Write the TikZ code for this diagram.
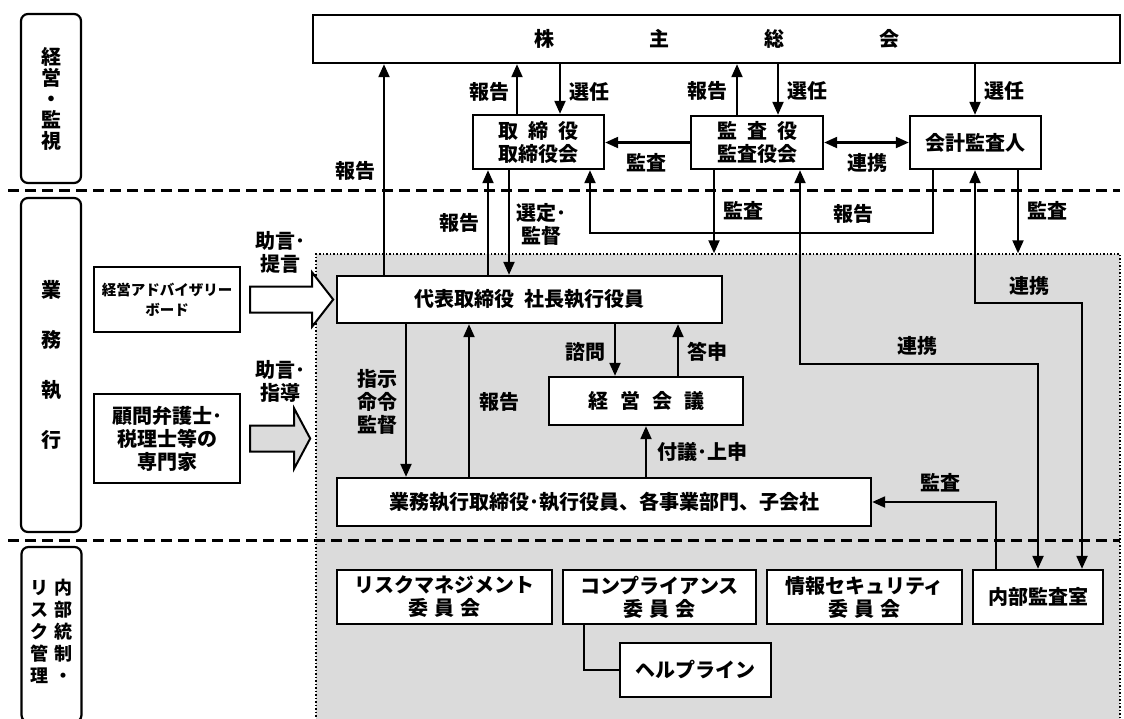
\documentclass[tikz,border=0pt]{standalone}
\usepackage{fontspec}
\setmainfont{Noto Sans CJK JP}
\usetikzlibrary{arrows.meta}

\begin{document}
\begin{tikzpicture}[x=1pt,y=-1pt,>={Triangle[length=13pt,width=11pt]},
			every node/.style={font=\fontsize{20}{23}\selectfont\bfseries,inner sep=0pt},
			box/.style={draw,line width=2.4pt,fill=white,align=center},
			lane/.style={draw,line width=2.2pt,rounded corners=7pt,fill=white,align=center,minimum width=60pt},
			small/.style={font=\fontsize{14.5}{20}\selectfont\bfseries},
			line/.style={line width=2.2pt},
			post/.style={line,->},
			both/.style={line,<->},
			sep/.style={line width=3pt,dash pattern=on 11pt off 6pt},
			area/.style={draw,dotted,line width=1.5pt,fill=gray!28},
			blockarrow/.style={draw,line width=2pt}]

		\useasboundingbox (0,0) rectangle (1124,718);

		\node [area, minimum width=804pt, minimum height=472pt] (exec) at (718,490) {};

		\draw [sep] (8,190) -- (1120,190);
		\draw [sep] (8,540) -- (1120,540);

		\node [lane, minimum height=169pt, font=\fontsize{20}{21}\selectfont\bfseries] (lane1) at (51,98.5) {経\\営\\・\\監\\視};
		\node [lane, minimum height=334pt, font=\fontsize{20}{50}\selectfont\bfseries] (lane2) at (51,365) {業\\務\\執\\行};
		\node [lane, minimum height=175pt, font=\fontsize{18}{22}\selectfont\bfseries] (lane3) at (51.5,634.5)
			{\begin{tabular}{@{}c@{\hspace{7pt}}c@{}}リ&内\\ス&部\\ク&統\\管&制\\理&・\end{tabular}};

		\node [box, minimum width=807pt, minimum height=48pt] (soukai) at (716.5,39)
			{株\hspace{95pt}主\hspace{95pt}総\hspace{95pt}会};
		\node [box, minimum width=131pt, minimum height=54pt] (torishimari) at (538.5,142) {取\hspace{10pt}締\hspace{10pt}役\\取締役会};
		\node [box, minimum width=132pt, minimum height=53pt] (kansa) at (757,142.5) {監\hspace{10pt}査\hspace{10pt}役\\監査役会};
		\node [box, minimum width=131pt, minimum height=53pt] (kaikei) at (975.5,142.5) {会計監査人};
		\node [box, minimum width=385pt, minimum height=47pt] (daihyo) at (529.5,299.5) {代表取締役\hspace{10pt}社長執行役員};
		\node [box, minimum width=194pt, minimum height=48pt] (keiei) at (646,401) {経\hspace{12pt}営\hspace{12pt}会\hspace{12pt}議};
		\node [box, minimum width=534pt, minimum height=48pt] (gyomu) at (604,502) {業務執行取締役･執行役員、各事業部門、子会社};
		\node [box, small, minimum width=146pt, minimum height=65pt] (advisory) at (167,299.5) {経営アドバイザリー\\ボード};
		\node [box, minimum width=146pt, minimum height=89pt] (komon) at (167,438.5) {顧問弁護士･\\税理士等の\\専門家};
		\node [box, minimum width=215pt, minimum height=54pt] (risk) at (444.5,597) {リスクマネジメント\\委\hspace{6pt}員\hspace{6pt}会};
		\node [box, minimum width=193pt, minimum height=54pt] (comp) at (659.5,597) {コンプライアンス\\委\hspace{6pt}員\hspace{6pt}会};
		\node [box, minimum width=195pt, minimum height=54pt] (security) at (864.5,597) {情報セキュリティ\\委\hspace{6pt}員\hspace{6pt}会};
		\node [box, minimum width=130pt, minimum height=54pt] (naibu) at (1038,597) {内部監査室};
		\node [box, minimum width=151pt, minimum height=54pt] (helpline) at (695.5,670) {ヘルプライン};

		\draw [blockarrow, fill=white] (advisory.east) ++(9,-13) -- ++(62,0) -- ++(0,-14) -- ++(21,27)
			-- ++(-21,27) -- ++(0,-14) -- ++(-62,0) -- cycle;
		\draw [blockarrow, fill=gray!28] (komon.east) ++(9,-13) -- ++(44,0) -- ++(0,-17) -- ++(16,30)
			-- ++(-16,30) -- ++(0,-17) -- ++(-44,0) -- cycle;

		\draw [post] (daihyo.north -| 384,0) -- (soukai.south -| 384,0);
		\draw [post] (torishimari.north -| 517,0) -- (soukai.south -| 517,0);
		\draw [post] (soukai.south -| 560,0) -- (torishimari.north -| 560,0);
		\draw [post] (kansa.north -| 737,0) -- (soukai.south -| 737,0);
		\draw [post] (soukai.south -| 778,0) -- (kansa.north -| 778,0);
		\draw [post] (soukai.south -| 975,0) -- (kaikei.north -| 975,0);
		\draw [post] (kansa.west) -- (kansa.west -| torishimari.east);
		\draw [both] (kansa.east) -- (kansa.east -| kaikei.west);
		\draw [post] (kaikei.south -| 933,0) -- (933,233) -| (torishimari.south -| 590,0);
		\draw [post] (daihyo.north -| 488,0) -- (torishimari.south -| 488,0);
		\draw [post] (torishimari.south -| 509,0) -- (daihyo.north -| 509,0);
		\draw [post] (kansa.south -| 714,0) -- (exec.north -| 714,0);
		\draw [post] (kaikei.south -| 1018,0) -- (exec.north -| 1018,0);
		\draw [both] (kansa.south -| 800,0) -- (800,364) -| (naibu.north -| 1038,0);
		\draw [both] (kaikei.south -| 975,0) -- (975,303) -| (naibu.north -| 1082,0);
		\draw [post] (naibu.north -| 996,0) |- (gyomu.east);
		\draw [post] (daihyo.south -| 406,0) -- (gyomu.north -| 406,0);
		\draw [post] (gyomu.north -| 469,0) -- (daihyo.south -| 469,0);
		\draw [post] (daihyo.south -| 615,0) -- (keiei.north -| 615,0);
		\draw [post] (keiei.north -| 678,0) -- (daihyo.south -| 678,0);
		\draw [post] (gyomu.north -| 646,0) -- (keiei.south -| 646,0);
		\draw [line] (comp.south -| 584,0) |- (helpline.west);

		\node (rep1) at (355,171) {報告};
		\node (rep2) at (489,92) {報告};
		\node (sel1) at (589,92) {選任};
		\node (rep3) at (707,91) {報告};
		\node (sel2) at (807,91) {選任};
		\node (sel3) at (1004,91) {選任};
		\node (aud1) at (646,163) {監査};
		\node (coop1) at (867,163) {連携};
		\node (rep4) at (853,214) {報告};
		\node (rep5) at (459,223) {報告};
		\node [align=center] (supv) at (541,224) {選定･\\監督};
		\node (aud2) at (743,211) {監査};
		\node (aud3) at (1047,211) {監査};
		\node (coop2) at (1029,286) {連携};
		\node (coop3) at (917,346) {連携};
		\node (aud4) at (940,483) {監査};
		\node [align=center] (order) at (377,402) {指示\\命令\\監督};
		\node (rep6) at (499,402) {報告};
		\node (cons) at (585,352) {諮問};
		\node (answ) at (707,352) {答申};
		\node (subm) at (702,452) {付議･上申};
		\node [align=center] (adv1) at (280,252) {助言･\\提言};
		\node [align=center] (adv2) at (280,381) {助言･\\指導};

		\end{tikzpicture}
\end{document}
